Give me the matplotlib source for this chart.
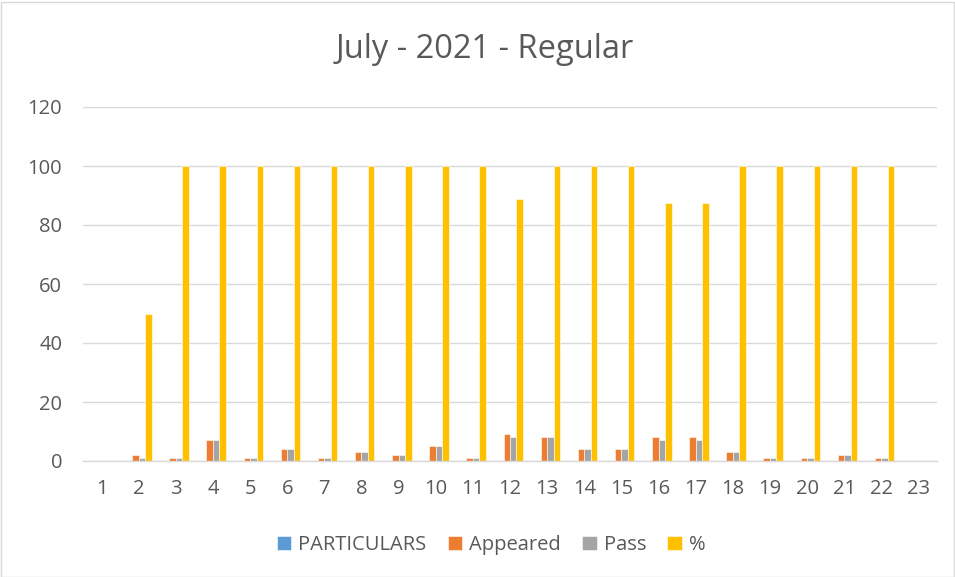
import matplotlib.pyplot as plt
import numpy as np

plt.rcParams['font.family'] = ['Open Sans', 'DejaVu Sans']

categories = [str(i) for i in range(1, 24)]
particulars = [0] * 23
appeared = [0, 2, 1, 7, 1, 4, 1, 3, 2, 5, 1, 9, 8, 4, 4, 8, 8, 3, 1, 1, 2, 1, 0]
passed = [0, 1, 1, 7, 1, 4, 1, 3, 2, 5, 1, 8, 8, 4, 4, 7, 7, 3, 1, 1, 2, 1, 0]
percent = [0, 50, 100, 100, 100, 100, 100, 100, 100, 100, 100, 88.89, 100, 100,
           100, 87.5, 87.5, 100, 100, 100, 100, 100, 0]

fig = plt.figure(figsize=(9.55, 5.77), dpi=100)
ax = fig.add_axes([83/955, 1 - 461/577, (937-83)/955, (461-107)/577])

x = np.arange(1, 24)
w = 0.175
series = [('PARTICULARS', particulars, '#5B9BD5'),
          ('Appeared', appeared, '#ED7D31'),
          ('Pass', passed, '#A5A5A5'),
          ('%', percent, '#FFC000')]
for i, (name, vals, col) in enumerate(series):
    ax.bar(x + (i - 1.5) * w, vals, w, color=col, label=name,
           edgecolor='white', linewidth=0.4)

ax.set_xlim(0.5, 23.5)
ax.set_ylim(0, 120)
ax.set_yticks(range(0, 121, 20))
ax.set_xticks(x)
ax.set_xticklabels(categories)
ax.yaxis.grid(True, color='#D9D9D9', linewidth=1)
ax.set_axisbelow(True)
for s in ['top', 'right', 'left']:
    ax.spines[s].set_visible(False)
ax.spines['bottom'].set_color('#D9D9D9')
ax.spines['bottom'].set_linewidth(1)
ax.tick_params(length=0, labelsize=14.5, colors='#595959')
ax.tick_params(axis='x', pad=13)
ax.tick_params(axis='y', pad=15)

fig.text(485/955, 1 - 50/577, 'July - 2021 - Regular', ha='center', va='center',
         fontsize=23.5, color='#595959')

ax.legend(loc='center', bbox_to_anchor=((491 - 83) / 854, 1 - (545 - 107) / 354),
          ncol=4, frameon=False, fontsize=14.5, labelcolor='#595959',
          handlelength=0.72, handleheight=0.72, handletextpad=0.35,
          columnspacing=1.05)

fig.patches.append(plt.Rectangle((0.5/955, 0.5/577), 953/955, 575/577,
                                 transform=fig.transFigure, fill=False,
                                 edgecolor='#D9D9D9', linewidth=1))

plt.savefig('out.png', dpi=100)
